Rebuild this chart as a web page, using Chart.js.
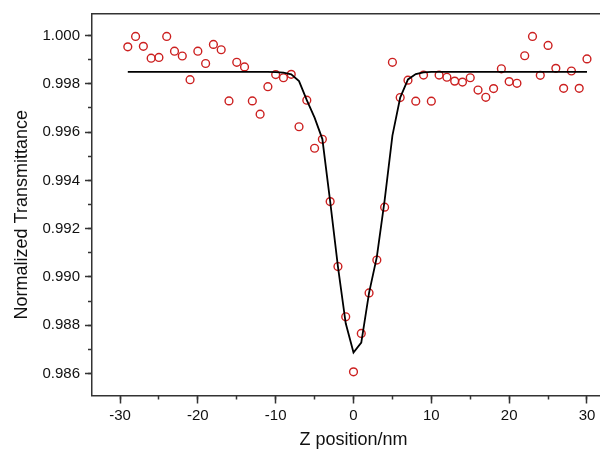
<!DOCTYPE html>
<html>
<head>
<meta charset="utf-8">
<script src="https://cdn.jsdelivr.net/npm/chart.js@4.4.0/dist/chart.umd.min.js"></script>
<style>
  html, body { margin: 0; padding: 0; background: #fff; overflow: hidden; }
  #wrap { width: 615px; height: 454px; }
</style>
</head>
<body>
<div id="wrap"><canvas id="myChart" width="615" height="454"></canvas></div>
<script>
// z positions (nm) of the scan
const zPos = [-29, -28, -27, -26, -25, -24, -23, -22, -21, -20,
  -19, -18, -17, -16, -15, -14, -13, -12, -11, -10,
  -9, -8, -7, -6, -5, -4, -3, -2, -1, 0,
  1, 2, 3, 4, 5, 6, 7, 8, 9, 10,
  11, 12, 13, 14, 15, 16, 17, 18, 19, 20,
  21, 22, 23, 24, 25, 26, 27, 28, 29, 30];

// measured normalized transmittance (red circles)
const measured = [0.99953, 0.99996, 0.99955, 0.99906, 0.99909, 0.99996, 0.99935, 0.99915, 0.99817, 0.99935,
  0.99884, 0.99963, 0.99941, 0.99729, 0.99889, 0.99870, 0.99729, 0.99674, 0.99788, 0.99838,
  0.99825, 0.99839, 0.99622, 0.99732, 0.99533, 0.99570, 0.99312, 0.99043, 0.98835, 0.98607,
  0.98766, 0.98934, 0.99070, 0.99289, 0.99889, 0.99743, 0.99815, 0.99728, 0.99836, 0.99728,
  0.99836, 0.99827, 0.99811, 0.99807, 0.99825, 0.99774, 0.99744, 0.99780, 0.99862, 0.99809,
  0.99802, 0.99916, 0.99996, 0.99835, 0.99959, 0.99864, 0.99781, 0.99853, 0.99781, 0.99903];

// fitted curve (black line)
const fitted = [0.99849, 0.99849, 0.99849, 0.99849, 0.99849, 0.99849, 0.99849, 0.99849, 0.99849, 0.99849,
  0.99849, 0.99849, 0.99849, 0.99849, 0.99849, 0.99849, 0.99849, 0.99849, 0.99849, 0.99848,
  0.99846, 0.99839, 0.99811, 0.99732, 0.99660, 0.99571, 0.99313, 0.99043, 0.98808, 0.98687,
  0.98728, 0.98934, 0.99083, 0.99317, 0.99585, 0.99743, 0.99818, 0.99840, 0.99847, 0.99849,
  0.99849, 0.99849, 0.99849, 0.99849, 0.99849, 0.99849, 0.99849, 0.99849, 0.99849, 0.99849,
  0.99849, 0.99849, 0.99849, 0.99849, 0.99849, 0.99849, 0.99849, 0.99849, 0.99849, 0.99849];

const xMin = -33.6, xMax = 33.6;
const yMin = 0.98509, yMax = 1.00089;
const axisColor = '#333';
const fontFamily = '"Liberation Sans", Arial, sans-serif';

const ctx = document.getElementById('myChart').getContext('2d');
const myChart = new Chart(ctx, {
  type: 'scatter',
  data: {
    datasets: [
      {
        label: 'Fit',
        type: 'line',
        data: zPos.map((z, i) => ({ x: z, y: fitted[i] })),
        borderColor: '#000',
        borderWidth: 1.8,
        pointRadius: 0,
        fill: false,
        tension: 0,
      },
      {
        label: 'Data',
        data: zPos.map((z, i) => ({ x: z, y: measured[i] })),
        pointStyle: 'circle',
        pointRadius: 3.9,
        pointBorderWidth: 1.4,
        borderColor: '#cc2020',
        backgroundColor: 'rgba(0,0,0,0)',
        pointBackgroundColor: 'rgba(0,0,0,0)',
      },
    ],
  },
  options: {
    responsive: false,
    animation: false,
    layout: { autoPadding: false, padding: { top: 13, right: 0, left: 0, bottom: 0 } },
    plugins: { legend: { display: false }, tooltip: { enabled: false } },
    scales: {
      x: {
        type: 'linear', position: 'bottom', min: xMin, max: xMax,
        afterFit: (s) => { s.height = 58.5; },
        border: { display: true, color: axisColor, width: 1.5 },
        grid: { display: true, drawOnChartArea: false, drawTicks: true, tickLength: 8, tickColor: axisColor, tickWidth: 1.5 },
        ticks: {
          stepSize: 10, includeBounds: false, autoSkip: false, maxRotation: 0, padding: 3,
          color: '#111', font: { family: fontFamily, size: 15 },
          callback: (v) => String(Math.round(v)),
        },
        title: { display: true, text: 'Z position/nm', color: '#111', font: { family: fontFamily, size: 18 }, padding: { top: 0, bottom: 3 } },
      },
      xMinor: {
        type: 'linear', position: 'bottom', weight: -1, min: xMin, max: xMax,
        afterFit: (s) => { s.height = 0; },
        border: { display: false },
        grid: { display: true, drawOnChartArea: false, drawTicks: true, tickLength: 4, tickColor: axisColor, tickWidth: 1.5 },
        ticks: { stepSize: 5, includeBounds: false, autoSkip: false, display: false },
      },
      xTop: {
        type: 'linear', position: 'top', min: xMin, max: xMax,
        afterFit: (s) => { s.height = 0; },
        border: { display: true, color: axisColor, width: 1.5 },
        grid: { display: false },
        ticks: { display: false },
      },
      y: {
        type: 'linear', position: 'left', min: yMin, max: yMax,
        afterFit: (s) => { s.width = 92; },
        border: { display: true, color: axisColor, width: 1.5 },
        grid: { display: true, drawOnChartArea: false, drawTicks: true, tickLength: 7, tickColor: axisColor, tickWidth: 1.5 },
        ticks: {
          stepSize: 0.002, includeBounds: false, autoSkip: false, padding: 5,
          color: '#111', font: { family: fontFamily, size: 15 },
          callback: (v) => v.toFixed(3),
        },
        // trailing spaces nudge the rotated title down a little, like the original
        title: { display: true, text: 'Normalized Transmittance    ', color: '#111', font: { family: fontFamily, size: 18 }, padding: { top: 11, bottom: 0 } },
      },
      yMinor: {
        type: 'linear', position: 'left', weight: -1, min: yMin, max: yMax,
        afterFit: (s) => { s.width = 0; },
        border: { display: false },
        grid: { display: true, drawOnChartArea: false, drawTicks: true, tickLength: 4, tickColor: axisColor, tickWidth: 1.5 },
        ticks: { stepSize: 0.001, includeBounds: false, autoSkip: false, display: false },
      },
    },
  },
});
</script>
</body>
</html>
